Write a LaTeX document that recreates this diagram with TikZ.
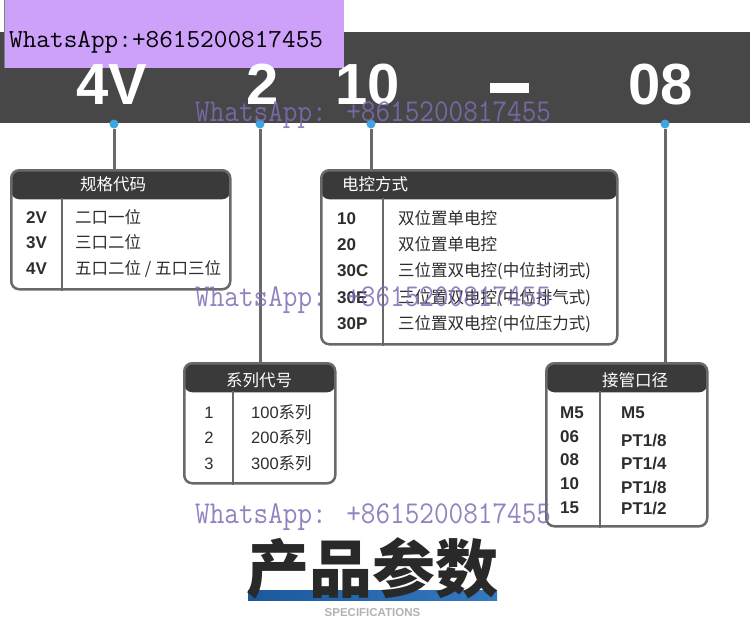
\documentclass[tikz,border=0pt]{standalone}
\usepackage{fontspec}
\setmainfont{Liberation Sans}
\newfontfamily\cjk{Noto Sans CJK SC}
\usepackage{xcolor}
\usetikzlibrary{positioning, calc}
\definecolor{bardark}{RGB}{71,71,71}
\definecolor{hdrdark}{RGB}{58,58,58}
\definecolor{framegray}{RGB}{105,105,105}
\definecolor{dotblue}{RGB}{62,165,225}
\definecolor{wmpurple}{RGB}{128,108,180}
\definecolor{tagpurple}{RGB}{205,160,250}
\definecolor{inkgray}{RGB}{45,45,45}
\definecolor{specblueL}{RGB}{28,88,158}
\definecolor{specblueR}{RGB}{52,122,192}

\begin{document}
\begin{tikzpicture}[
  x=1pt, y=-1pt,
  code/.style={anchor=base, text=white, inner sep=0pt,
    font=\fontsize{58}{58}\selectfont\bfseries},
  dot/.style={circle, fill=dotblue, inner sep=0pt, minimum size=9pt},
  conn/.style={draw=framegray, line width=3pt},
  tbl/.style 2 args={
    draw=framegray, line width=2.5pt, fill=white, rounded corners=8pt,
    inner sep=0pt, anchor=north west, minimum width=#1, minimum height=#2,
    path picture={\fill[hdrdark] (path picture bounding box.north west)
      rectangle ([yshift=-29pt]path picture bounding box.north east);}
  },
  sep/.style={draw=framegray, line width=2.5pt},
  hdr/.style={text=white, inner sep=0pt, font=\cjk\fontsize{16.5}{16.5}\selectfont},
  row/.style={anchor=west, inner sep=0pt, text height=12pt, text depth=0pt,
    text=inkgray, font=\fontsize{16.5}{16.5}\selectfont},
  rowb/.style={row, font=\fontsize{17}{17}\selectfont\bfseries},
  wm/.style={anchor=base west, inner sep=0pt, text=wmpurple, opacity=0.85,
    font=\ttfamily\fontsize{28.4}{28.4}\selectfont}
]
  \useasboundingbox (0,0) rectangle (750,632);

  % top bar with the order code
  \fill[bardark] (0,32) rectangle (750,123);
  \fill[tagpurple] (5,0) rectangle (344,68);
  \draw[gray, line width=1pt] (4,0) -- (4,68);
  \node[anchor=base west, inner sep=0pt, text=black,
    font=\ttfamily\fontsize{26.5}{26.5}\selectfont] (tag) at (9,47)
    {\scalebox{1}[0.98]{WhatsApp:+8615200817455}};

  \node[code] (c4v) at (111.5,104) {4V};
  \node[code] (c2) at (262.5,104) {2};
  \node[code] (c10) at (367.5,104) {10};
  \node[anchor=center, inner sep=0pt] (cdash) at (509.5,88) {\color{white}\rule{39pt}{10pt}};
  \node[code] (c08) at (661,104) {08};

  \node[dot] (d4v) at (114,124) {};
  \node[dot] (d2) at (260,124) {};
  \node[dot] (d10) at (371,124) {};
  \node[dot] (d08) at (665,124) {};

  % tables
  \node[tbl={219pt}{119pt}] (gg) at (10,169) {};
  \node[tbl={296pt}{174pt}] (dk) at (320,169) {};
  \node[tbl={151pt}{120pt}] (xl) at (183,362) {};
  \node[tbl={161pt}{163pt}] (jg) at (545,362) {};

  \draw[conn] (d4v) -- (d4v |- gg.north);
  \draw[conn] (d2) -- (d2 |- xl.north);
  \draw[conn] (d10) -- (d10 |- dk.north);
  \draw[conn] (d08) -- (d08 |- jg.north);

  \draw[sep] ($(gg.north west)+(52,29)$) -- ($(gg.south west)+(52,0)$);
  \draw[sep] ($(dk.north west)+(63,29)$) -- ($(dk.south west)+(63,0)$);
  \draw[sep] ($(xl.north west)+(50,29)$) -- ($(xl.south west)+(50,0)$);
  \draw[sep] ($(jg.north west)+(55,29)$) -- ($(jg.south west)+(55,0)$);

  % 规格代码
  \node[hdr] (gghdr) at (113,184) {规格代码};
  \foreach \code/\desc/\y in {2V/二口一位/217, 3V/三口二位/242, 4V/{五口二位 / 五口三位}/268}
    \node[rowb] at (26,\y) {\code} node[row, font=\cjk\fontsize{16.5}{16.5}\selectfont] at (75,\y) {\desc};

  % 电控方式
  \node[hdr, anchor=west] (dkhdr) at (342,184) {电控方式};
  \foreach \code/\desc/\y in {10/双位置单电控/218, 20/双位置单电控/244,
      30C/三位置双电控(中位封闭式)/270, 30E/三位置双电控(中位排气式)/297,
      30P/三位置双电控(中位压力式)/323}
    \node[rowb] at (337,\y) {\code} node[row, font=\cjk\fontsize{16.5}{16.5}\selectfont] at (398,\y) {\desc};

  % 系列代号
  \node[hdr] (xlhdr) at (259,380) {系列代号};
  \foreach \code/\num/\y in {1/100/412, 2/200/437, 3/300/463}
    \node[row, anchor=center] at (209,\y) {\code} node[row] at (251,\y) {\num{\cjk 系列}};

  % 接管口径
  \node[hdr] (jghdr) at (635,380) {接管口径};
  \foreach \code/\y in {M5/412, 06/436, 08/459, 10/483, 15/507}
    \node[rowb] at (560,\y) {\code};
  \foreach \size/\y in {M5/412, {PT1/8}/440, {PT1/4}/463, {PT1/8}/487, {PT1/2}/508}
    \node[rowb] at (621,\y) {\size};

  % title
  \node[minimum width=249pt, minimum height=10pt, inner sep=0pt,
    left color=specblueL, right color=specblueR] (bar) at (372.5,595) {};
  \node[anchor=base, inner sep=0pt, text=inkgray!90!black,
    font=\cjk\bfseries\fontsize{63}{63}\selectfont] (title) at (372,592) {产品参数};
  \node[below=8pt of bar, inner sep=0pt, text=gray!60,
    font=\fontsize{11.5}{11.5}\selectfont\bfseries] (spec) {SPECIFICATIONS};

  % watermarks
  \node[wm] (wm1) at (195,121) {\scalebox{1}[1.12]{WhatsApp: +8615200817455}};
  \node[wm] (wm2) at (195,306) {\scalebox{1}[1.12]{WhatsApp: +8615200817455}};
  \node[wm] (wm3) at (195,523) {\scalebox{1}[1.12]{WhatsApp: +8615200817455}};
\end{tikzpicture}
\end{document}
